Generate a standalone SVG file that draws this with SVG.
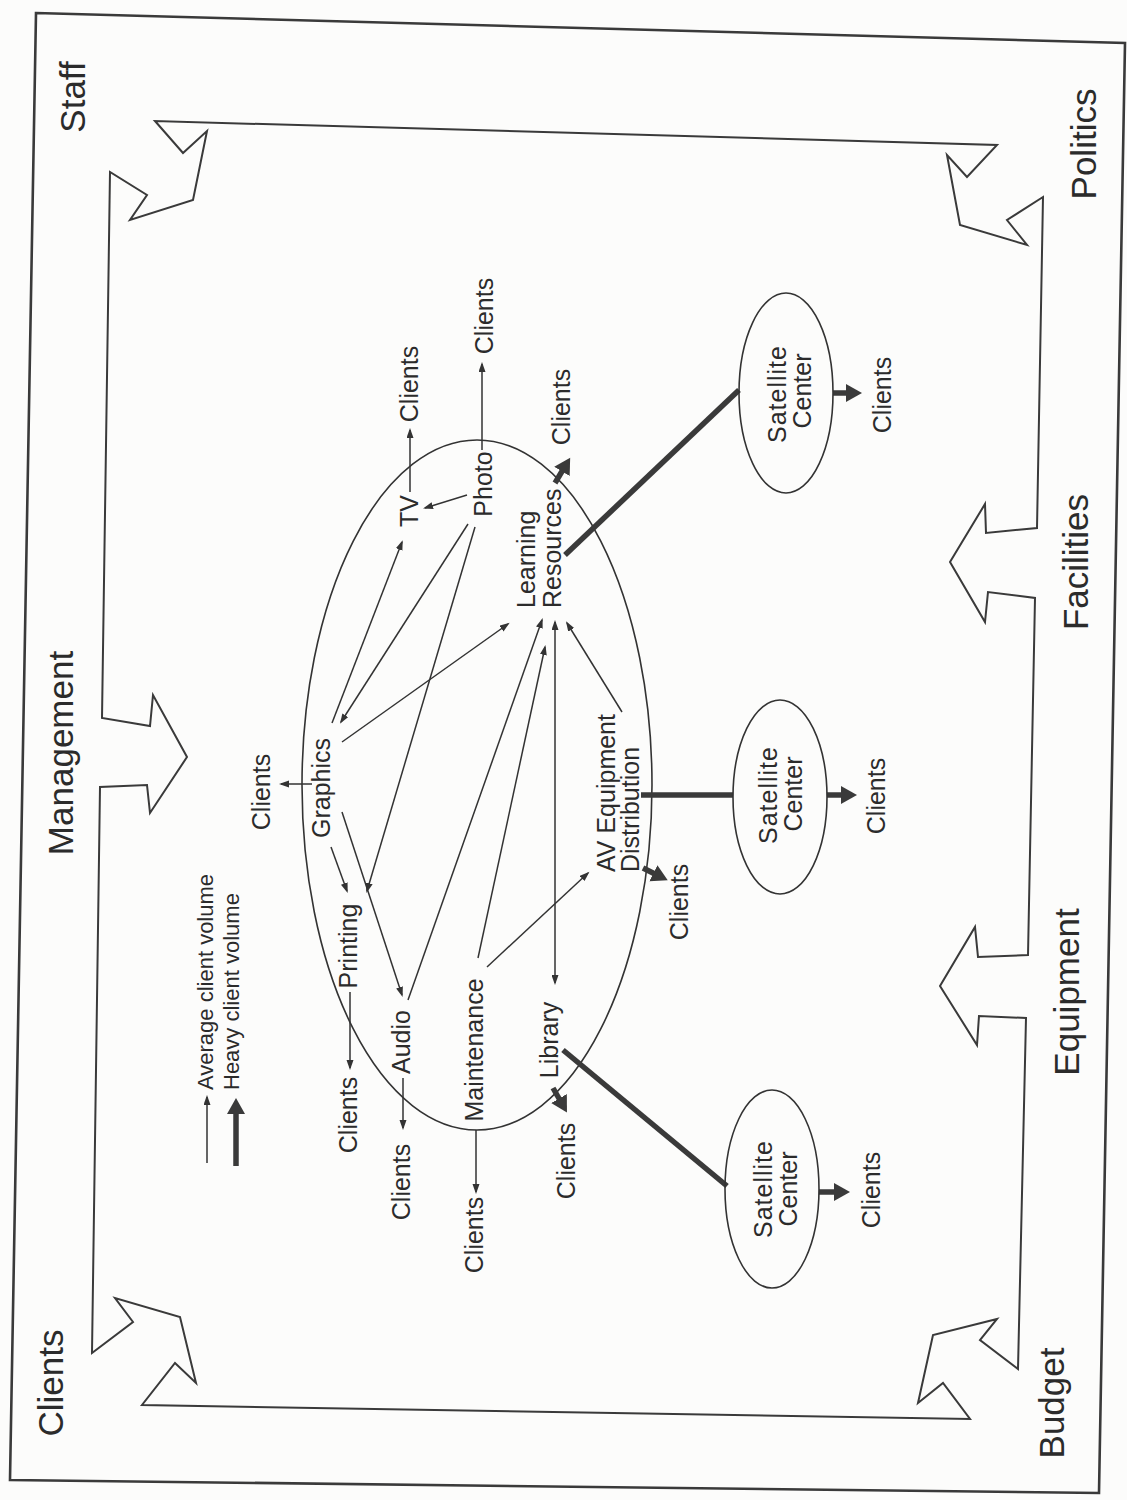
<svg xmlns="http://www.w3.org/2000/svg" width="1127" height="1500" viewBox="0 0 1127 1500">
  <defs>
    <marker id="thin" markerUnits="userSpaceOnUse" markerWidth="12" markerHeight="9" refX="8" refY="3.5" orient="auto">
      <path d="M0,0 L10,3.5 L0,7 z" fill="#333"/>
    </marker>
    <marker id="thin-start" markerUnits="userSpaceOnUse" markerWidth="12" markerHeight="9" refX="2" refY="3.5" orient="auto">
      <path d="M10,0 L0,3.5 L10,7 z" fill="#333"/>
    </marker>
    <marker id="heavy" markerUnits="userSpaceOnUse" markerWidth="20" markerHeight="20" refX="4" refY="9" orient="auto">
      <path d="M0,0 L16,9 L0,18 z" fill="#3a3a3a"/>
    </marker>
  </defs>
  <style>
    text { font-family: "Liberation Sans", Arial, Helvetica, sans-serif; fill: #2b2b2b; }
    .outer { font-size: 35px; text-anchor: middle; }
    .node { font-size: 25px; text-anchor: middle; }
    .nodeL { font-size: 25px; text-anchor: start; }
    .legend { font-size: 22px; text-anchor: start; }
    .frame { fill: none; stroke: #3a3a3a; stroke-width: 2; stroke-linejoin: miter; }
    .border { fill: none; stroke: #3a3a3a; stroke-width: 2.6; }
    .oval { fill: none; stroke: #333; stroke-width: 1.6; }
    .thin { fill: none; stroke: #333; stroke-width: 1.5; marker-end: url(#thin); }
    .heavy { fill: none; stroke: #3a3a3a; stroke-width: 5.5; marker-end: url(#heavy); }
    .link { fill: none; stroke: #3a3a3a; stroke-width: 5.5; }
  </style>

  <rect width="1127" height="1500" fill="#fcfcfb"/>

  <!-- outer border -->
  <polygon class="border" points="36,13 1125,43 1099,1493 10,1480"/>

  <!-- inner frame with the eight inward arrows -->
  <g id="frame">
    <path class="frame" d="M155,121 L183,153 L207,131 L193,200 L130,220 L147,195 L110,172
      L102,718 L150,726 L153,695 L187,757 L150,813 L147,785 L100,787
      L92,1353 L133,1322 L115,1298 L180,1317 L196,1383 L175,1363 L142,1405
      L970,1419 L943,1383 L918,1403 L933,1335 L997,1319 L980,1340 L1018,1369
      L1026,1018 L979,1016 L977,1045 L940,986 L975,927 L978,957 L1028,955
      L1035,598 L988,592 L985,622 L950,562 L985,504 L986,533 L1037,528
      L1043,197 L1007,220 L1027,245 L960,225 L947,155 L967,177 L997,145 Z"/>
  </g>

  <!-- outer influences -->
  <g id="influences">
    <text class="outer" transform="translate(85,97) rotate(-90)">Staff</text>
    <text class="outer" transform="translate(73,753) rotate(-90)">Management</text>
    <text class="outer" transform="translate(63,1383) rotate(-90)">Clients</text>
    <text class="outer" transform="translate(1096,144) rotate(-90)">Politics</text>
    <text class="outer" transform="translate(1088,562) rotate(-90)">Facilities</text>
    <text class="outer" transform="translate(1079,992) rotate(-90)">Equipment</text>
    <text class="outer" transform="translate(1064,1403) rotate(-90)">Budget</text>
  </g>

  <!-- legend -->
  <g id="legend">
    <line x1="207" y1="1163" x2="207" y2="1097" stroke="#333" stroke-width="1.5" marker-end="url(#thin)"/>
    <line x1="236" y1="1166" x2="236" y2="1110" stroke="#3a3a3a" stroke-width="5.5" marker-end="url(#heavy)"/>
    <text class="legend" transform="translate(213,1090) rotate(-90)">Average client volume</text>
    <text class="legend" transform="translate(239,1090) rotate(-90)">Heavy client volume</text>
  </g>

  <!-- central media center -->
  <g id="media-center">
    <ellipse class="oval" cx="477" cy="785" rx="175" ry="345"/>
  </g>

  <!-- connectors -->
  <g id="connectors">
    <line class="thin" x1="312" y1="784" x2="281" y2="784"/>
    <line class="thin" x1="410" y1="492" x2="410" y2="430"/>
    <line class="thin" x1="482" y1="450" x2="482" y2="364"/>
    <line class="thin" x1="467" y1="495" x2="425" y2="508"/>
    <line class="thin" x1="332" y1="723" x2="402" y2="542"/>
    <line class="thin" x1="468" y1="524" x2="341" y2="722"/>
    <line class="thin" x1="475" y1="527" x2="367" y2="891"/>
    <line class="thin" x1="331" y1="847" x2="347" y2="891"/>
    <line class="thin" x1="342" y1="812" x2="402" y2="995"/>
    <line class="thin" x1="342" y1="742" x2="508" y2="624"/>
    <line class="thin" x1="408" y1="1000" x2="542" y2="620"/>
    <line class="thin" x1="478" y1="958" x2="545" y2="647"/>
    <line x1="555" y1="983" x2="555" y2="622" stroke="#333" stroke-width="1.5" marker-start="url(#thin-start)" marker-end="url(#thin)"/>
    <line class="thin" x1="622" y1="712" x2="567" y2="623"/>
    <line class="thin" x1="487" y1="967" x2="588" y2="873"/>
    <line class="thin" x1="350" y1="992" x2="350" y2="1068"/>
    <line class="thin" x1="403" y1="1078" x2="403" y2="1128"/>
    <line class="thin" x1="476" y1="1130" x2="476" y2="1192"/>

    <line class="heavy" x1="555" y1="483" x2="564" y2="468"/>
    <line class="heavy" x1="553" y1="1088" x2="561" y2="1102"/>
    <line class="heavy" x1="643" y1="868" x2="657" y2="875"/>
    <line class="heavy" x1="833" y1="393" x2="850" y2="393"/>
    <line class="heavy" x1="827" y1="795" x2="845" y2="795"/>
    <line class="heavy" x1="819" y1="1192" x2="838" y2="1192"/>

    <line class="link" x1="565" y1="555" x2="739" y2="390"/>
    <line class="link" x1="641" y1="795" x2="733" y2="795"/>
    <line class="link" x1="563" y1="1050" x2="727" y2="1186"/>
  </g>

  <!-- units inside the media center -->
  <g id="graphics"><text class="node" transform="translate(330,788) rotate(-90)">Graphics</text></g>
  <g id="printing"><text class="node" transform="translate(357,946) rotate(-90)">Printing</text></g>
  <g id="audio"><text class="node" transform="translate(410,1042) rotate(-90)">Audio</text></g>
  <g id="maintenance"><text class="node" transform="translate(483,1050) rotate(-90)">Maintenance</text></g>
  <g id="library"><text class="node" transform="translate(558,1040) rotate(-90)">Library</text></g>
  <g id="tv"><text class="node" transform="translate(418,511) rotate(-90)">TV</text></g>
  <g id="photo"><text class="node" transform="translate(492,484) rotate(-90)">Photo</text></g>
  <g id="learning-resources">
    <text class="nodeL" transform="translate(535,608) rotate(-90)">Learning</text>
    <text class="nodeL" transform="translate(561,608) rotate(-90)">Resources</text>
  </g>
  <g id="av-distribution">
    <text class="nodeL" transform="translate(615,872) rotate(-90)">AV Equipment</text>
    <text class="nodeL" transform="translate(639,872) rotate(-90)">Distribution</text>
  </g>

  <!-- satellite centers -->
  <g id="satellite-1">
    <ellipse class="oval" cx="786" cy="393" rx="47" ry="100"/>
    <text class="node" letter-spacing="1" transform="translate(786,394) rotate(-90)">Satellite</text>
    <text class="node" transform="translate(811,391) rotate(-90)">Center</text>
  </g>
  <g id="satellite-2">
    <ellipse class="oval" cx="780" cy="797" rx="47" ry="97"/>
    <text class="node" letter-spacing="1" transform="translate(777,795) rotate(-90)">Satellite</text>
    <text class="node" transform="translate(802,794) rotate(-90)">Center</text>
  </g>
  <g id="satellite-3">
    <ellipse class="oval" cx="772" cy="1189" rx="47" ry="99"/>
    <text class="node" letter-spacing="1" transform="translate(772,1189) rotate(-90)">Satellite</text>
    <text class="node" transform="translate(797,1189) rotate(-90)">Center</text>
  </g>

  <!-- client endpoints -->
  <g id="clients-graphics"><text class="node" transform="translate(270,792) rotate(-90)">Clients</text></g>
  <g id="clients-tv"><text class="node" transform="translate(418,384) rotate(-90)">Clients</text></g>
  <g id="clients-photo"><text class="node" transform="translate(493,316) rotate(-90)">Clients</text></g>
  <g id="clients-learning"><text class="node" transform="translate(570,407) rotate(-90)">Clients</text></g>
  <g id="clients-printing"><text class="node" transform="translate(357,1115) rotate(-90)">Clients</text></g>
  <g id="clients-audio"><text class="node" transform="translate(410,1182) rotate(-90)">Clients</text></g>
  <g id="clients-maintenance"><text class="node" transform="translate(483,1235) rotate(-90)">Clients</text></g>
  <g id="clients-library"><text class="node" transform="translate(575,1161) rotate(-90)">Clients</text></g>
  <g id="clients-av"><text class="node" transform="translate(688,902) rotate(-90)">Clients</text></g>
  <g id="clients-satellite-1"><text class="node" transform="translate(891,395) rotate(-90)">Clients</text></g>
  <g id="clients-satellite-2"><text class="node" transform="translate(885,796) rotate(-90)">Clients</text></g>
  <g id="clients-satellite-3"><text class="node" transform="translate(880,1190) rotate(-90)">Clients</text></g>
</svg>
